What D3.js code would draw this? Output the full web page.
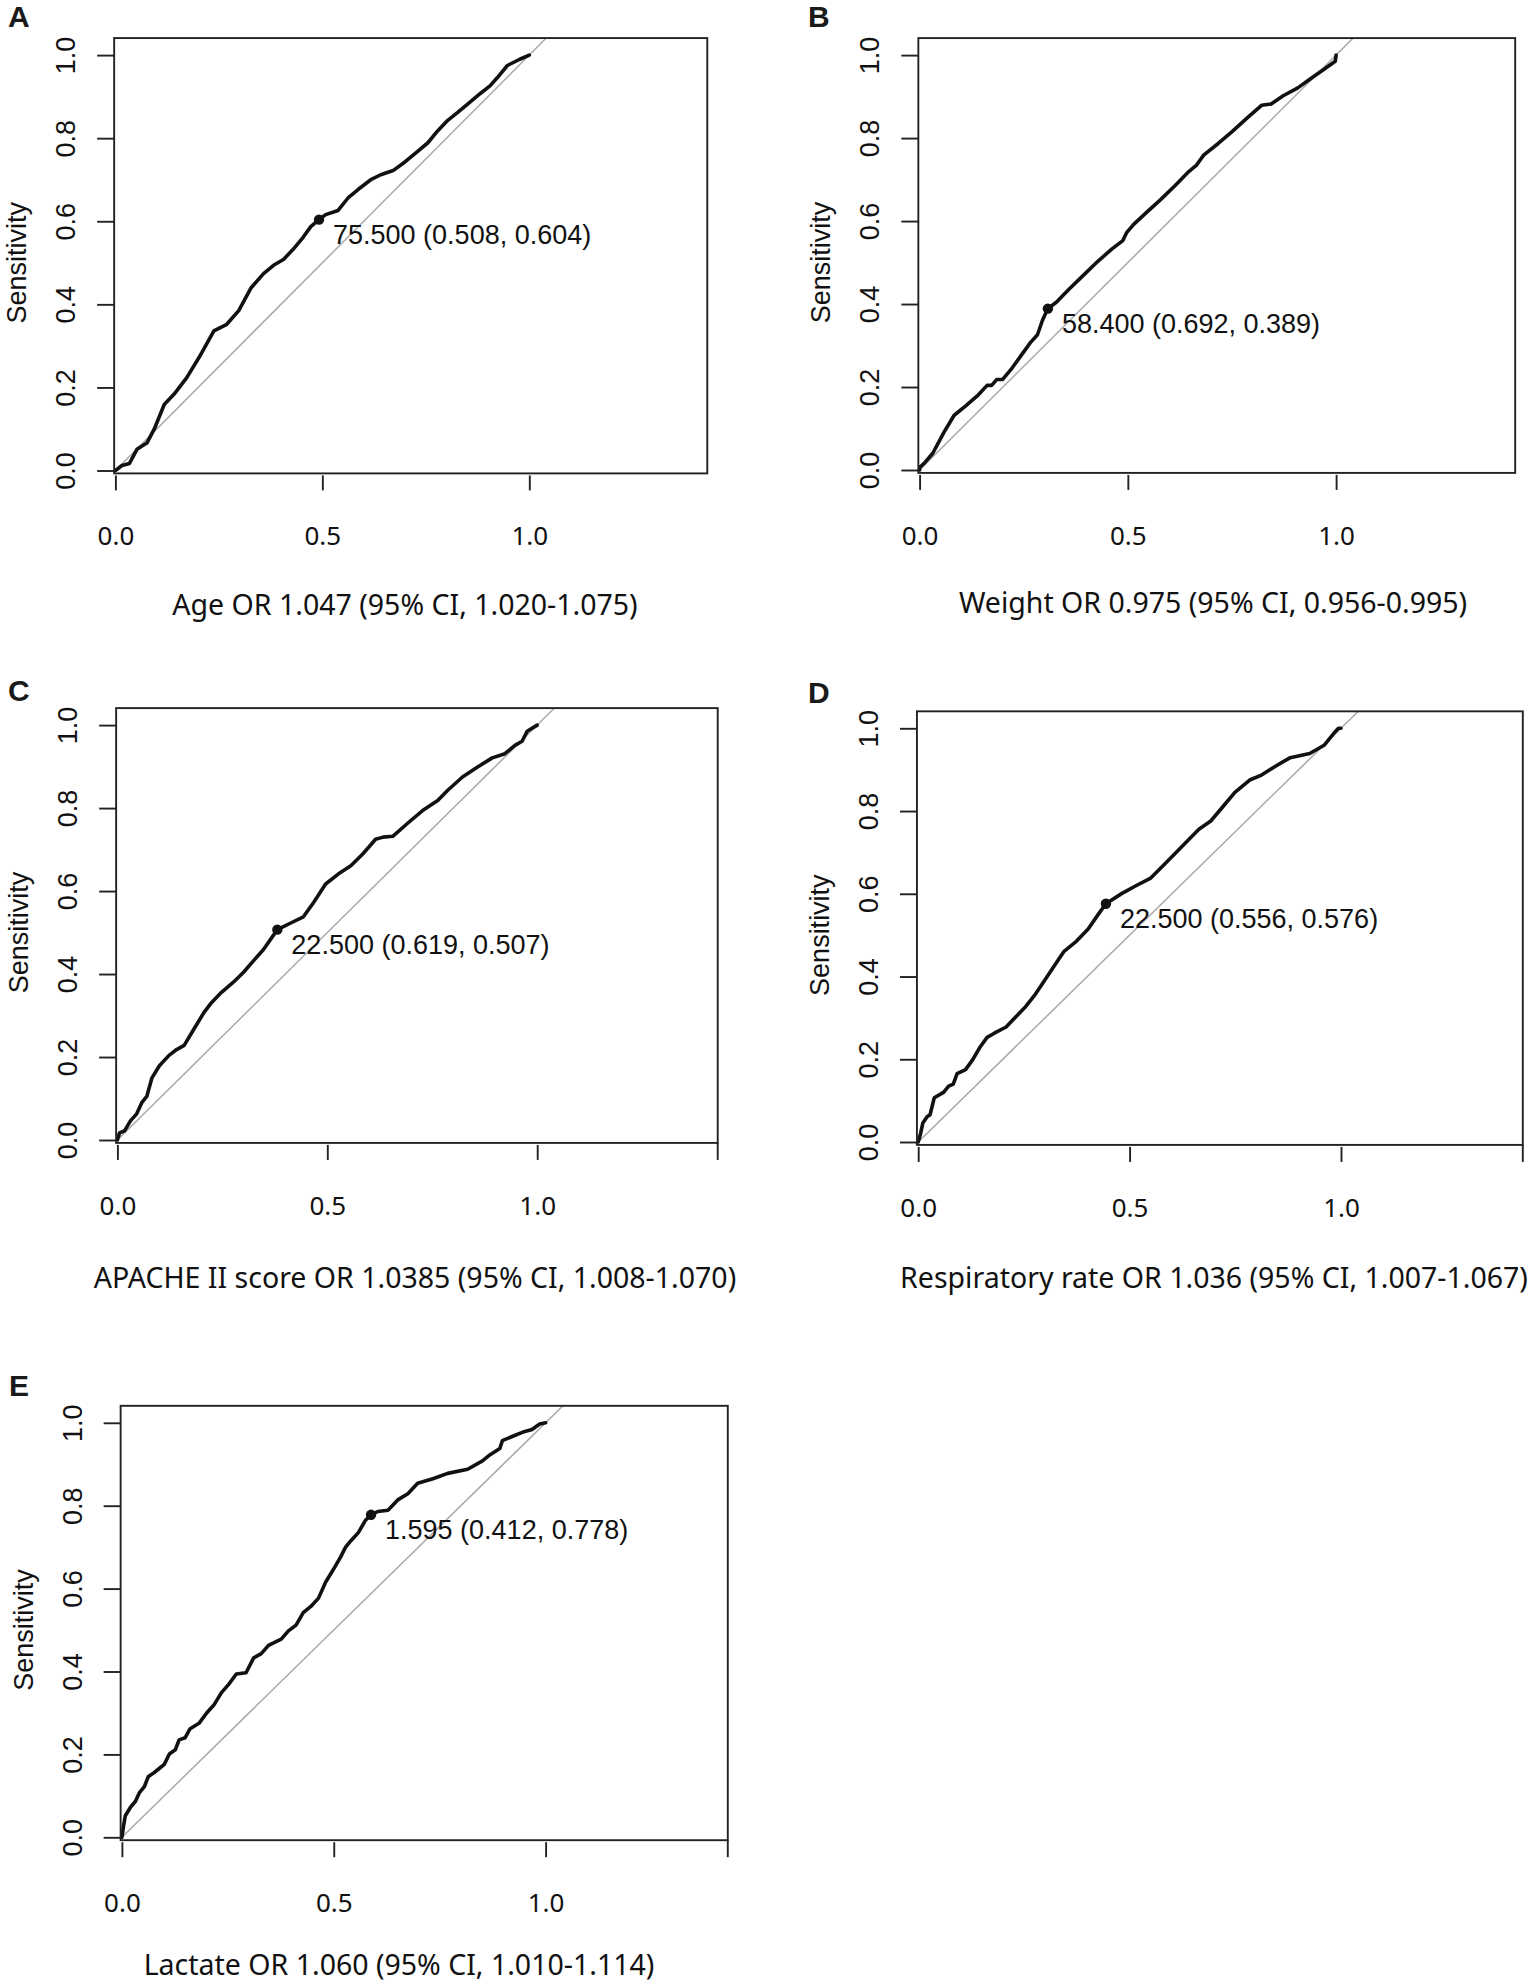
<!DOCTYPE html>
<html>
<head>
<meta charset="utf-8">
<script src="https://cdn.jsdelivr.net/npm/d3@7"></script>
<style>
  body { margin: 0; background: #fff; }
  svg { display: block; }
</style>
</head>
<body>
<svg id="chart" width="1535" height="1983"></svg>
<script>
// ROC curves as [1 - specificity, sensitivity]
var ageRoc = [[0,0],[0.016,0.012],[0.034,0.017],[0.052,0.051],[0.076,0.066],[0.094,0.1],[0.118,0.159],[0.142,0.184],[0.172,0.223],[0.202,0.272],[0.238,0.336],[0.268,0.351],[0.298,0.385],[0.328,0.44],[0.358,0.474],[0.382,0.494],[0.406,0.508],[0.43,0.533],[0.454,0.562],[0.472,0.587],[0.492,0.604],[0.508,0.616],[0.538,0.626],[0.562,0.656],[0.587,0.677],[0.617,0.7],[0.641,0.712],[0.671,0.722],[0.701,0.744],[0.731,0.769],[0.755,0.789],[0.779,0.818],[0.803,0.843],[0.827,0.862],[0.851,0.882],[0.881,0.907],[0.905,0.926],[0.923,0.946],[0.947,0.975],[0.977,0.99],[1,1]];

var weightRoc = [[0,0],[0.001,0.007],[0.012,0.017],[0.032,0.041],[0.058,0.09],[0.083,0.132],[0.11,0.154],[0.139,0.179],[0.162,0.204],[0.173,0.204],[0.185,0.218],[0.199,0.218],[0.22,0.243],[0.243,0.275],[0.266,0.307],[0.283,0.326],[0.295,0.361],[0.308,0.389],[0.329,0.405],[0.358,0.435],[0.393,0.469],[0.428,0.503],[0.462,0.533],[0.488,0.553],[0.497,0.572],[0.514,0.592],[0.543,0.619],[0.578,0.651],[0.613,0.685],[0.647,0.72],[0.665,0.735],[0.682,0.759],[0.717,0.787],[0.751,0.816],[0.786,0.848],[0.821,0.879],[0.844,0.882],[0.873,0.902],[0.908,0.921],[0.936,0.941],[0.971,0.966],[0.998,0.985],[1,1]];

var apacheRoc = [[0,0],[0.005,0.017],[0.017,0.022],[0.031,0.046],[0.046,0.063],[0.058,0.09],[0.07,0.105],[0.082,0.149],[0.1,0.179],[0.123,0.204],[0.141,0.218],[0.159,0.228],[0.182,0.267],[0.206,0.307],[0.224,0.331],[0.248,0.356],[0.277,0.381],[0.301,0.405],[0.325,0.433],[0.348,0.459],[0.381,0.507],[0.413,0.523],[0.443,0.538],[0.467,0.572],[0.496,0.617],[0.526,0.641],[0.556,0.661],[0.585,0.69],[0.615,0.725],[0.633,0.73],[0.656,0.732],[0.692,0.764],[0.727,0.794],[0.763,0.818],[0.787,0.843],[0.822,0.875],[0.858,0.899],[0.893,0.921],[0.923,0.931],[0.947,0.951],[0.964,0.961],[0.976,0.985],[1,1]];

var respRoc = [[0,0],[0.006,0.022],[0.011,0.046],[0.021,0.061],[0.028,0.066],[0.038,0.107],[0.06,0.12],[0.072,0.135],[0.083,0.14],[0.092,0.165],[0.112,0.175],[0.129,0.199],[0.146,0.229],[0.163,0.253],[0.18,0.263],[0.208,0.278],[0.231,0.303],[0.254,0.327],[0.277,0.357],[0.3,0.392],[0.322,0.426],[0.345,0.461],[0.374,0.485],[0.402,0.515],[0.425,0.549],[0.444,0.576],[0.482,0.601],[0.516,0.62],[0.55,0.638],[0.579,0.668],[0.607,0.697],[0.636,0.727],[0.664,0.756],[0.692,0.776],[0.721,0.811],[0.749,0.845],[0.784,0.875],[0.812,0.887],[0.846,0.909],[0.88,0.929],[0.926,0.939],[0.96,0.959],[0.983,0.988],[0.994,1],[1,1]];

var lactateRoc = [[0,0],[0.004,0.028],[0.008,0.052],[0.02,0.072],[0.032,0.087],[0.041,0.107],[0.053,0.122],[0.062,0.146],[0.076,0.156],[0.088,0.166],[0.1,0.176],[0.112,0.201],[0.126,0.211],[0.135,0.235],[0.149,0.24],[0.161,0.262],[0.182,0.275],[0.2,0.3],[0.217,0.319],[0.235,0.349],[0.252,0.369],[0.27,0.394],[0.293,0.397],[0.311,0.433],[0.329,0.443],[0.346,0.463],[0.376,0.478],[0.393,0.498],[0.411,0.512],[0.428,0.542],[0.446,0.557],[0.464,0.577],[0.481,0.616],[0.499,0.646],[0.516,0.676],[0.528,0.7],[0.54,0.715],[0.558,0.735],[0.575,0.765],[0.588,0.778],[0.604,0.786],[0.628,0.789],[0.651,0.814],[0.675,0.829],[0.698,0.854],[0.734,0.865],[0.769,0.878],[0.816,0.888],[0.851,0.908],[0.869,0.923],[0.892,0.938],[0.898,0.957],[0.921,0.967],[0.945,0.977],[0.968,0.984],[0.986,0.997],[1,1]];

var panelLetters = ["A", "B", "C", "D", "E"];
var xLabels = [
  "Age OR 1.047 (95% CI, 1.020-1.075)",
  "Weight OR 0.975 (95% CI, 0.956-0.995)",
  "APACHE II score OR 1.0385 (95% CI, 1.008-1.070)",
  "Respiratory rate OR 1.036 (95% CI, 1.007-1.067)",
  "Lactate OR 1.060 (95% CI, 1.010-1.114)"
];
// best cut-off: threshold, specificity, sensitivity
var bestThreshold = [75.5, 58.4, 22.5, 22.5, 1.595];
var bestSpecificity = [0.508, 0.692, 0.619, 0.556, 0.412];
var bestSensitivity = [0.604, 0.389, 0.507, 0.576, 0.778];
var xTicks = [0, 0.5, 1];
var yTicks = [0, 0.2, 0.4, 0.6, 0.8, 1];

var rocs = [ageRoc, weightRoc, apacheRoc, respRoc, lactateRoc];

// pixel placement of each panel: where data (0,0) and (1,1) land
var layout = [
  { x0: 115.4, x1: 529.3, y0: 470.5, y1: 55.1, lx: 8, ly: 27, labX: 405, labY: 615, endTick: false },
  { x0: 919.6, x1: 1336.1, y0: 470.0, y1: 55.1, lx: 808, ly: 27, labX: 1213, labY: 613, endTick: false },
  { x0: 117.4, x1: 537.2, y0: 1140.0, y1: 725.1, lx: 8, ly: 701, labX: 415, labY: 1288, endTick: true },
  { x0: 918.2, x1: 1341.0, y0: 1142.0, y1: 728.3, lx: 808, ly: 703, labX: 1214, labY: 1288, endTick: true },
  { x0: 121.9, x1: 545.6, y0: 1837.3, y1: 1422.8, lx: 9, ly: 1396, labX: 399, labY: 1975, endTick: true }
];

var boxX = [-0.003, 1.43];
var boxY = [-0.007, 1.041];

var svg = d3.select("#chart");
svg.append("rect").attr("width", 1535).attr("height", 1983).attr("fill", "#fff");

var arialFont = "'Liberation Sans', Arial, sans-serif";
var uiFont = "'Noto Sans', 'Open Sans', sans-serif";

rocs.forEach(function (roc, i) {
  var p = layout[i];
  var x = d3.scaleLinear().domain([0, 1]).range([p.x0, p.x1]);
  var y = d3.scaleLinear().domain([0, 1]).range([p.y0, p.y1]);
  var g = svg.append("g");

  var left = x(boxX[0]), right = x(boxX[1]);
  var top = y(boxY[1]), bottom = y(boxY[0]);

  // diagonal reference, clipped to the box
  var dLo = Math.max(boxX[0], boxY[0]), dHi = Math.min(boxX[1], boxY[1]);
  g.append("line")
    .attr("x1", x(dLo)).attr("y1", y(dLo))
    .attr("x2", x(dHi)).attr("y2", y(dHi))
    .attr("stroke", "#a8a8a8")
    .attr("stroke-width", 1.5);

  // ROC curve
  var line = d3.line()
    .x(function (d) { return x(d[0]); })
    .y(function (d) { return y(d[1]); });

  g.append("path")
    .datum(roc)
    .attr("d", line)
    .attr("fill", "none")
    .attr("stroke", "#111")
    .attr("stroke-width", 3.6)
    .attr("stroke-linejoin", "round")
    .attr("stroke-linecap", "round");

  // box
  g.append("rect")
    .attr("x", left).attr("y", top)
    .attr("width", right - left).attr("height", bottom - top)
    .attr("fill", "none")
    .attr("stroke", "#222")
    .attr("stroke-width", 1.9);

  // y axis
  var yAxis = g.append("g")
    .attr("transform", "translate(" + left + ",0)")
    .call(d3.axisLeft(y).tickValues(yTicks).tickSize(17).tickFormat(d3.format(".1f")));
  yAxis.select(".domain").remove();
  yAxis.selectAll(".tick line").attr("stroke", "#222").attr("stroke-width", 1.9);
  yAxis.selectAll(".tick text")
    .attr("x", null).attr("dy", null)
    .attr("transform", "translate(-48,0) rotate(-90)")
    .attr("text-anchor", "middle")
    .attr("dominant-baseline", "central")
    .attr("fill", "#111")
    .style("font-family", arialFont)
    .style("font-size", "27px");

  // x axis
  var xAxis = g.append("g")
    .attr("transform", "translate(0," + (bottom + 2) + ")")
    .call(d3.axisBottom(x).tickValues(xTicks).tickSize(15).tickFormat(d3.format(".1f")));
  xAxis.select(".domain").remove();
  xAxis.selectAll(".tick line").attr("stroke", "#222").attr("stroke-width", 1.9);
  xAxis.selectAll(".tick text")
    .attr("dy", null)
    .attr("y", p.y0 + 75 - bottom - 2)
    .attr("fill", "#111")
    .style("font-family", uiFont)
    .style("font-size", "26px");
  if (p.endTick) {
    xAxis.append("line")
      .attr("x1", right).attr("x2", right)
      .attr("y1", -2).attr("y2", 15)
      .attr("stroke", "#222").attr("stroke-width", 1.9);
  }

  // axis titles
  g.append("text")
    .attr("transform", "translate(" + (left - 97) + "," + y(0.5) + ") rotate(-90)")
    .attr("text-anchor", "middle")
    .attr("dominant-baseline", "central")
    .attr("fill", "#111")
    .style("font-family", arialFont)
    .style("font-size", "27px")
    .text("Sensitivity");

  g.append("text")
    .attr("x", p.labX).attr("y", p.labY)
    .attr("text-anchor", "middle")
    .attr("fill", "#111")
    .style("font-family", uiFont)
    .style("font-size", "28.5px")
    .text(xLabels[i]);

  // best threshold
  var bx = x(1 - bestSpecificity[i]), by = y(bestSensitivity[i]);
  g.append("circle")
    .attr("cx", bx).attr("cy", by).attr("r", 5.2)
    .attr("fill", "#111");
  g.append("text")
    .attr("x", bx + 14).attr("y", by + 24)
    .attr("fill", "#111")
    .style("font-family", arialFont)
    .style("font-size", "27px")
    .text(bestThreshold[i].toFixed(3) + " (" + bestSpecificity[i].toFixed(3) + ", " + bestSensitivity[i].toFixed(3) + ")");

  // panel letter
  g.append("text")
    .attr("x", p.lx).attr("y", p.ly)
    .attr("fill", "#1a1a1a")
    .style("font-family", arialFont)
    .style("font-weight", "bold")
    .style("font-size", "30px")
    .text(panelLetters[i]);
});
</script>
</body>
</html>
